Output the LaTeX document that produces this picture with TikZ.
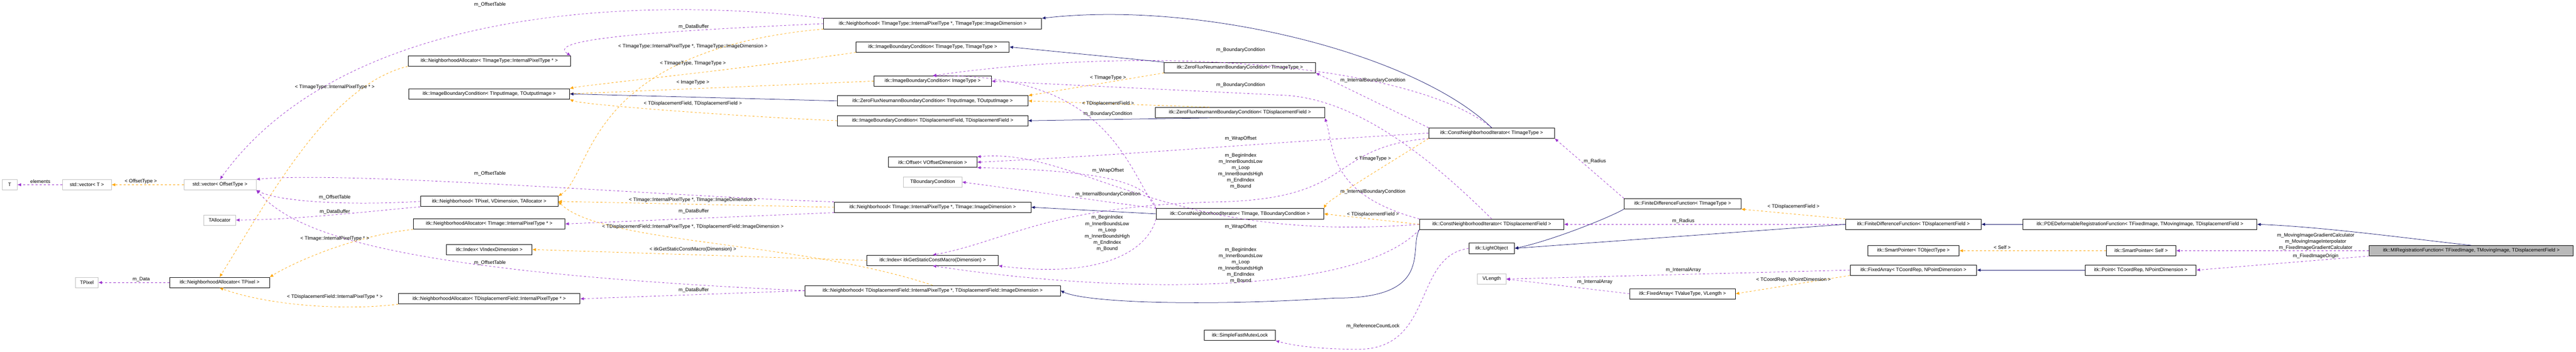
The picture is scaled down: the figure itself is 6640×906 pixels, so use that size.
\documentclass[tikz,border=0pt]{standalone}
\usepackage{fontspec}
\setmainfont{Liberation Sans}
\usetikzlibrary{arrows.meta}
\definecolor{pu}{HTML}{9A32CD}
\definecolor{og}{HTML}{FFA500}
\definecolor{bl}{HTML}{191970}
\definecolor{gb}{HTML}{BFBFBF}
\begin{document}
\begin{tikzpicture}[x=0.75pt,y=-0.75pt,
  box/.style={draw=black,line width=0.8pt,fill=white,minimum height=20pt,inner sep=2pt,font=\fontsize{9.5}{11}\selectfont},
  gbox/.style={box,draw=gb},
  main/.style={box,fill=gray!55},
  lab/.style={font=\fontsize{9.5}{12}\selectfont,align=center,inner sep=0pt},
  pe/.style={draw=pu,line width=0.75pt,dash pattern=on 4pt off 4pt,-{Latex[length=7pt,width=6pt]}},
  oe/.style={draw=og,line width=0.75pt,dash pattern=on 4pt off 4pt,-{Latex[length=7pt,width=6pt]}},
  be/.style={draw=bl,line width=0.75pt,-{Latex[length=7pt,width=6pt]}}]
\useasboundingbox (0,0) rectangle (6640,906);
% nodes
\node[gbox,minimum width=29pt] (T) at (25,476) {T};
\node[gbox,minimum width=94.5pt] (vecT) at (224,476) {std::vector< T >};
\node[gbox,minimum width=139.5pt] (vecOff) at (567,476) {std::vector< OffsetType >};
\node[gbox,minimum width=62pt] (TAlloc) at (566,567) {TAllocator};
\node[gbox,minimum width=43.5pt] (TPixel) at (224,728) {TPixel};
\node[box,minimum width=193pt] (NAP) at (566,728) {itk::NeighborhoodAllocator< TPixel >};
\node[box,minimum width=314pt] (NAIT) at (1261,157) {itk::NeighborhoodAllocator< TImageType::InternalPixelType * >};
\node[box,minimum width=310.5pt] (IBCIO) at (1261,242) {itk::ImageBoundaryCondition< TInputImage, TOutputImage >};
\node[box,minimum width=266pt] (NbP) at (1261,519) {itk::Neighborhood< TPixel, VDimension, TAllocator >};
\node[box,minimum width=293pt] (NAI) at (1261,577) {itk::NeighborhoodAllocator< TImage::InternalPixelType * >};
\node[box,minimum width=166pt] (IdxV) at (1261,643) {itk::Index< VIndexDimension >};
\node[box,minimum width=351pt] (NAD) at (1261,770) {itk::NeighborhoodAllocator< TDisplacementField::InternalPixelType * >};
\node[box,minimum width=421.5pt] (NbIT) at (2404,61) {itk::Neighborhood< TImageType::InternalPixelType *, TImageType::ImageDimension >};
\node[box,minimum width=296pt] (IBCTT) at (2404,121) {itk::ImageBoundaryCondition< TImageType, TImageType >};
\node[box,minimum width=227pt] (IBCImg) at (2404,209) {itk::ImageBoundaryCondition< ImageType >};
\node[box,minimum width=369pt] (ZFNIO) at (2404,260) {itk::ZeroFluxNeumannBoundaryCondition< TInputImage, TOutputImage >};
\node[box,minimum width=368pt] (IBCDD) at (2404,311) {itk::ImageBoundaryCondition< TDisplacementField, TDisplacementField >};
\node[box,minimum width=171pt] (Off) at (2404,418) {itk::Offset< VOffsetDimension >};
\node[gbox,minimum width=113pt] (TBC) at (2404,469) {TBoundaryCondition};
\node[box,minimum width=380pt] (NbI) at (2404,534) {itk::Neighborhood< TImage::InternalPixelType *, TImage::ImageDimension >};
\node[box,minimum width=254pt] (IdxItk) at (2404,671) {itk::Index< itkGetStaticConstMacro(Dimension) >};
\node[box,minimum width=493.5pt] (NbD) at (2404,749) {itk::Neighborhood< TDisplacementField::InternalPixelType *, TDisplacementField::ImageDimension >};
\node[box,minimum width=292.5pt] (ZFNIT) at (3196,174) {itk::ZeroFluxNeumannBoundaryCondition< TImageType >};
\node[box,minimum width=328pt] (ZFND) at (3196,290) {itk::ZeroFluxNeumannBoundaryCondition< TDisplacementField >};
\node[box,minimum width=324pt] (CNIB) at (3196,551) {itk::ConstNeighborhoodIterator< TImage, TBoundaryCondition >};
\node[box,minimum width=137pt] (SFM) at (3196,864) {itk::SimpleFastMutexLock};
\node[box,minimum width=243pt] (CNIT) at (3845,343) {itk::ConstNeighborhoodIterator< TImageType >};
\node[box,minimum width=279pt] (CNID) at (3845,578) {itk::ConstNeighborhoodIterator< TDisplacementField >};
\node[box,minimum width=88pt] (LO) at (3845,640) {itk::LightObject};
\node[gbox,minimum width=55.5pt] (VLen) at (3845,719) {VLength};
\node[box,minimum width=226pt] (FDFT) at (4337,525) {itk::FiniteDifferenceFunction< TImageType >};
\node[box,minimum width=204pt] (FAV) at (4337,757) {itk::FixedArray< TValueType, VLength >};
\node[box,minimum width=262pt] (FDFD) at (4932,578) {itk::FiniteDifferenceFunction< TDisplacementField >};
\node[box,minimum width=177pt] (SPT) at (4932,646) {itk::SmartPointer< TObjectType >};
\node[box,minimum width=245pt] (FAC) at (4932,696) {itk::FixedArray< TCoordRep, NPointDimension >};
\node[box,minimum width=452pt] (PDE) at (5516,578) {itk::PDEDeformableRegistrationFunction< TFixedImage, TMovingImage, TDisplacementField >};
\node[box,minimum width=135pt] (SPS) at (5519,646) {itk::SmartPointer< Self >};
\node[box,minimum width=214.5pt] (Pt) at (5518,696) {itk::Point< TCoordRep, NPointDimension >};
\node[main,minimum width=394.5pt] (MI) at (6370,646) {itk::MIRegistrationFunction< TFixedImage, TMovingImage, TDisplacementField >};
% purple edges
\draw[pe] (vecT.west) -- (T.east);
\draw[pe] (NAP.west) -- (TPixel.east);
\draw[pe] (NbP.west) .. controls (900,530) and (720,520) .. (vecOff.south east);
\draw[pe] (NbP.south west) .. controls (950,545) and (750,567) .. (TAlloc.east);
\draw[pe] (NbIT.north west) .. controls (1700,-5) and (900,0) .. (vecOff.north);
\draw[pe] (NbI.north west) .. controls (1700,505) and (900,440) .. (vecOff.north east);
\draw[pe] (NbD.west) .. controls (1000,700) and (760,600) .. (vecOff.south east);
\draw[pe] (NbIT.west) .. controls (1700,80) and (1400,100) .. (NAIT.north east);
\draw[pe] (NbI.south west) -- (NAI.east);
\draw[pe] (NbD.west) -- (NAD.east);
\draw[pe] (CNIT.north) .. controls (3650,170) and (3000,110) .. (IBCImg.north);
\draw[pe] (CNID.north) .. controls (3700,420) and (3500,250) .. (3300,245) -- (IBCImg.east);
\draw[pe] (CNIB.north west) .. controls (2900,420) and (2850,190) .. (IBCImg.north);
\draw[pe] (CNIT.north west) -- (ZFNIT.south east);
\draw[pe] (CNID.north west) .. controls (3420,500) and (3440,380) .. (ZFND.south east);
\draw[pe] (CNIB.north west) -- (TBC.east);
\draw[pe] (CNIT.west) .. controls (3300,365) and (2900,400) .. (Off.east);
\draw[pe] (CNIB.north west) .. controls (2960,470) and (2850,440) .. (Off.south east);
\draw[pe] (CNID.west) .. controls (3000,630) and (2780,380) .. (Off.north east);
\draw[pe] (CNIT.south west) .. controls (3420,380) and (3500,510) .. (3150,520) .. controls (2700,530) and (2600,620) .. (IdxItk.north);
\draw[pe] (CNIB.south west) .. controls (2960,640) and (2850,720) .. (IdxItk.south east);
\draw[pe] (CNID.south west) .. controls (3500,760) and (2900,760) .. (IdxItk.south);
\draw[pe] (LO.west) .. controls (3640,660) and (3700,900) .. (3500,900) .. controls (3400,900) and (3330,890) .. (SFM.south east);
\draw[pe] (FDFT.north west) -- (CNIT.south east);
\draw[pe] (FDFD.west) -- (CNID.east);
\draw[pe] (FAC.west) -- (VLen.east);
\draw[pe] (FAV.west) -- (VLen.east);
\draw[pe] (MI.west) -- (SPS.east);
\draw[pe] (MI.south west) -- (Pt.east);
% orange edges
\draw[oe] (vecOff.west) -- (vecT.east);
\draw[oe] (NAIT.south west) .. controls (850,220) and (700,500) .. (NAP.north);
\draw[oe] (NAI.south west) .. controls (900,610) and (750,680) .. (NAP.north east);
\draw[oe] (NAD.south west) .. controls (900,800) and (700,790) .. (NAP.south);
\draw[oe] (NbIT.south west) .. controls (1500,130) and (1530,450) .. (NbP.north east);
\draw[oe] (NbI.west) -- (NbP.east);
\draw[oe] (NbD.north) .. controls (2060,620) and (1550,630) .. (NbP.east);
\draw[oe] (IBCTT.south west) .. controls (1900,180) and (1500,220) .. (IBCIO.north east);
\draw[oe] (IBCImg.west) -- (IBCIO.east);
\draw[oe] (IBCDD.west) .. controls (1900,300) and (1500,270) .. (IBCIO.south east);
\draw[oe] (IdxItk.west) -- (IdxV.east);
\draw[oe] (ZFNIT.south west) -- (ZFNIO.north east);
\draw[oe] (ZFND.170) -- (ZFNIO.east);
\draw[oe] (CNIT.south west) .. controls (3500,470) and (3420,520) .. (CNIB.north east);
\draw[oe] (CNID.west) -- (CNIB.east);
\draw[oe] (FDFD.north west) -- (FDFT.south east);
\draw[oe] (SPS.west) -- (SPT.east);
\draw[oe] (FAC.south west) -- (FAV.east);
% blue edges
\draw[be] (ZFNIO.west) -- (IBCIO.east);
\draw[be] (ZFNIT.north west) -- (IBCTT.east);
\draw[be] (ZFND.190) -- (IBCDD.east);
\draw[be] (CNIT.north) .. controls (3650,140) and (3100,0) .. (NbIT.north east);
\draw[be] (CNIB.west) -- (NbI.east);
\draw[be] (CNID.south west) .. controls (3630,640) and (3700,770) .. (3440,768) .. controls (3100,790) and (2800,780) .. (NbD.east);
\draw[be] (FDFT.south west) .. controls (4150,560) and (4000,620) .. (LO.east);
\draw[be] (FDFD.west) -- (LO.east);
\draw[be] (PDE.west) -- (FDFD.east);
\draw[be] (MI.north) .. controls (6250,620) and (6000,585) .. (PDE.east);
\draw[be] (Pt.west) -- (FAC.east);
% labels
\node[lab] (l1) at (104,468) {elements};
\node[lab] (l2) at (363,468) {< OffsetType >};
\node[lab] (l3) at (364,720) {m\_Data};
\node[lab] (l4) at (863,225) {< TImageType::InternalPixelType * >};
\node[lab] (l5) at (863,509) {m\_OffsetTable};
\node[lab] (l6) at (863,546) {m\_DataBuffer};
\node[lab] (l7) at (863,615) {< TImage::InternalPixelType * >};
\node[lab] (l8) at (863,765) {< TDisplacementField::InternalPixelType * >};
\node[lab] (l9) at (1263,12) {m\_OffsetTable};
\node[lab] (l10) at (1788,69) {m\_DataBuffer};
\node[lab] (l11) at (1786,120) {< TImageType::InternalPixelType *, TImageType::ImageDimension >};
\node[lab] (l12) at (1786,163) {< TImageType, TImageType >};
\node[lab] (l13) at (1786,213) {< ImageType >};
\node[lab] (l14) at (1786,267) {< TDisplacementField, TDisplacementField >};
\node[lab] (l15) at (1263,448) {m\_OffsetTable};
\node[lab] (l16) at (1786,515) {< TImage::InternalPixelType *, TImage::ImageDimension >};
\node[lab] (l17) at (1788,545) {m\_DataBuffer};
\node[lab] (l18) at (1786,584) {< TDisplacementField::InternalPixelType *, TDisplacementField::ImageDimension >};
\node[lab] (l19) at (1786,643) {< itkGetStaticConstMacro(Dimension) >};
\node[lab] (l20) at (1263,677) {m\_OffsetTable};
\node[lab] (l21) at (1788,747) {m\_DataBuffer};
\node[lab] (l22) at (3198,129) {m\_BoundaryCondition};
\node[lab] (l23) at (2856,201) {< TImageType >};
\node[lab] (l24) at (3198,219) {m\_BoundaryCondition};
\node[lab] (l25) at (2856,267) {< TDisplacementField >};
\node[lab] (l26) at (2856,294) {m\_BoundaryCondition};
\node[lab] (l27) at (3198,357) {m\_WrapOffset};
\node[lab] (l28) at (3198,441) {m\_BeginIndex\\m\_InnerBoundsLow\\m\_Loop\\m\_InnerBoundsHigh\\m\_EndIndex\\m\_Bound};
\node[lab] (l29) at (2856,440) {m\_WrapOffset};
\node[lab] (l30) at (2856,501) {m\_InternalBoundaryCondition};
\node[lab] (l31) at (2854,601) {m\_BeginIndex\\m\_InnerBoundsLow\\m\_Loop\\m\_InnerBoundsHigh\\m\_EndIndex\\m\_Bound};
\node[lab] (l32) at (3198,585) {m\_WrapOffset};
\node[lab] (l33) at (3198,684) {m\_BeginIndex\\m\_InnerBoundsLow\\m\_Loop\\m\_InnerBoundsHigh\\m\_EndIndex\\m\_Bound};
\node[lab] (l34) at (3539,207) {m\_InternalBoundaryCondition};
\node[lab] (l35) at (3539,409) {< TImageType >};
\node[lab] (l36) at (4111,415) {m\_Radius};
\node[lab] (l37) at (3539,494) {m\_InternalBoundaryCondition};
\node[lab] (l38) at (3539,553) {< TDisplacementField >};
\node[lab] (l39) at (4339,570) {m\_Radius};
\node[lab] (l40) at (4339,696) {m\_InternalArray};
\node[lab] (l41) at (4111,727) {m\_InternalArray};
\node[lab] (l42) at (3539,840) {m\_ReferenceCountLock};
\node[lab] (l43) at (4623,533) {< TDisplacementField >};
\node[lab] (l44) at (5161,637) {< Self >};
\node[lab] (l45) at (4623,721) {< TCoordRep, NPointDimension >};
\node[lab] (l46) at (5969,623) {m\_MovingImageGradientCalculator\\m\_MovingImageInterpolator\\m\_FixedImageGradientCalculator};
\node[lab] (l47) at (5969,660) {m\_FixedImageOrigin};
\end{tikzpicture}
\end{document}
